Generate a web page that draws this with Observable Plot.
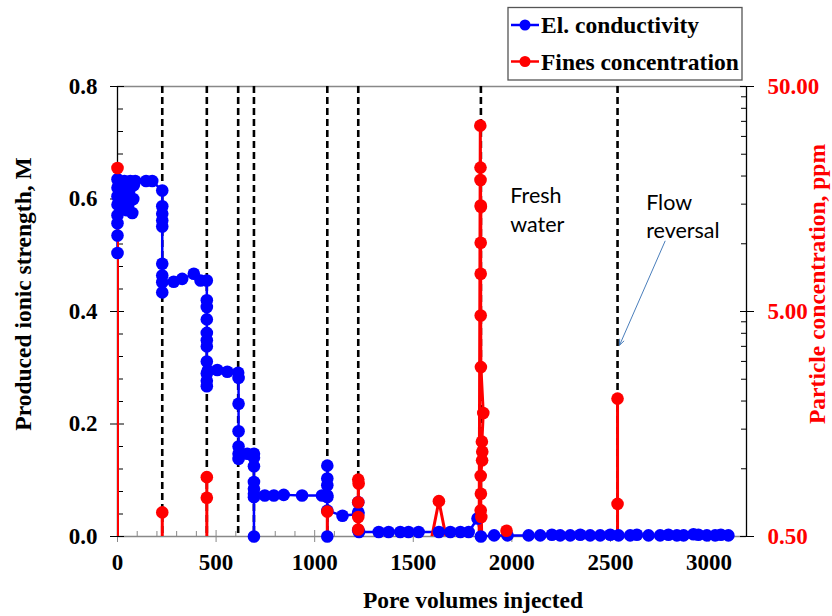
<!DOCTYPE html>
<html><head><meta charset="utf-8">
<script src="https://cdn.jsdelivr.net/npm/d3@7"></script>
<script src="https://cdn.jsdelivr.net/npm/@observablehq/plot@0.6"></script>
<style>
body{margin:0;background:#fff}
#chart{position:relative;width:832px;height:616px}
</style>
</head><body><div id="chart"></div>
<script>
// ---- Electrical conductivity (produced ionic strength, M) ----
const blueX = [0,0,0,0,0,0,0,0, 8,12,18,22,28,35,40,45,48,55,60,65,70,75,80,83, 90,145,176,
  227,227,227,227,227,227,227,227,227, 285,328,387,421,453,
  453,453,453,453,453,453,453,453,453,453, 458,506,557,612,
  614,614,614,614,614,614, 658,692,
  692,692,692,692,692,692, 692,747,793,843,936,1037,1064,
  1064,1064,1064,1064,1064,1064, 1141,1221,1221,1221,1221,1225,
  1325,1375,1434,1476,1527,1630,1688,1739,1781,1826,1843,1910,1978,
  2085,2144,2203,2245,2296,2347,2397,2448,2499,2541,2600,2634,2693,2752,2794,2837,2871,2921,2946,2989,3031,3060,3098];
const blueY = [0.504,0.535,0.557,0.571,0.59,0.605,0.62,0.635, 0.63,0.61,0.59,0.6,0.625,0.632,0.62,0.6,0.58,0.59,0.615,0.632,0.6,0.575,0.6,0.625, 0.632,0.632,0.632,
  0.615,0.587,0.574,0.562,0.551,0.485,0.464,0.434,0.452, 0.453,0.458,0.467,0.455,0.455,
  0.42,0.408,0.386,0.362,0.349,0.338,0.311,0.29,0.277,0.267, 0.295,0.296,0.293,0.291,
  0.282,0.236,0.187,0.16,0.147,0.138, 0.147,0.147,
  0.14,0.125,0.097,0.085,0.076,0, 0.07,0.073,0.073,0.074,0.073,0.073,0.073,
  0.091,0.103,0.126,0.07,0,0.046, 0.037,0.04,0.061,0.043,0.011,0.008,
  0.008,0.008,0.008,0.008,0.008,0.008,0.008,0.008,0.008,0.032,0,0.002,0.002,
  0.002,0.002,0.003,0.002,0.002,0.003,0.002,0.002,0.003,0.002,0.002,0.003,0.002,0.002,0.003,0.002,0.002,0.004,0.003,0.002,0.002,0.003,0.002];

// ---- Fines concentration (ppm); values under 0.5 fall below the axis ----
const redX = [0,0, 227,227,227, 453,453,453,453, 1064,1064,1064,
  1221,1221,1223,1221,1221,1221,1221, 1584,1630,1676,
  1832,1840,1841,1841,1842,1843,1842,1842,1842,1843,1855,1848,1850,1849,1842,1843,1842,1845,1866,
  1973,1973,1973, 2536,2536,2536,2536];
const redC = [21.7,0.1, 0.1,0.64,0.1, 0.1,0.918,0.743,0.1, 0.1,0.645,0.1,
  0.1,0.895,0.86,0.71,0.61,0.537,0.1, 0.45,0.718,0.45,
  0.1,33.5,21.8,19.2,14.8,14.6,10.1,7.36,4.8,2.83,1.77,1.32,1.19,1.09,0.93,0.775,0.653,0.61,0.1,
  0.1,0.53,0.1, 0.1,2.05,0.698,0.1];

// ---- event markers (dashed verticals) ----
const eventX = [227, 453, 612, 692, 1064, 1221, 1843, 2536];

// ---- ticks ----
const xTicks = [0,500,1000,1500,2000,2500,3000];
const xMinor = [100,200,300,400,600,700,800,900,1100,1200,1300,1400,1600,1700,1800,1900,2100,2200,2300,2400,2600,2700,2800,2900,3100];
const yTicks = [0,0.2,0.4,0.6,0.8];
const yMinor = [0.04,0.08,0.12,0.16,0.24,0.28,0.32,0.36,0.44,0.48,0.52,0.56,0.64,0.68,0.72,0.76];
const rTicks = [0.5,5,50];
const rMinor = [1,1.5,2,2.5,3,3.5,4,4.5,10,15,20,25,30,35,40,45];

const X_MAX = 3190;
const cScale = d3.scaleLog().domain([0.5,50]).range([0,0.8]);

const blue = blueX.map((x,i)=>({x, y: blueY[i]}));
const red = redX.map((x,i)=>({x, c: redC[i], yr: cScale(redC[i])}));

const serif = "'Liberation Serif','Times New Roman',serif";
const sans = "Lato,'Open Sans',sans-serif";

const plot = Plot.plot({
  width: 832, height: 616,
  marginLeft: 117, marginRight: 86, marginTop: 86, marginBottom: 80,
  x: {domain: [0, X_MAX], axis: null},
  y: {domain: [0, 0.8], axis: null},
  style: {fontFamily: serif, background: "white", color: "black"},
  marks: [
    // frame lines
    Plot.ruleY([0.8], {stroke: "#888", strokeWidth: 1.3}),
    Plot.ruleY([0], {stroke: "#888", strokeWidth: 1.3}),
    Plot.ruleX([0], {stroke: "black", strokeWidth: 1.3}),
    Plot.ruleX([X_MAX], {stroke: "black", strokeWidth: 1.3}),
    // ticks
    Plot.axisX(xTicks, {anchor: "bottom", tickSize: 12, dy: -6, fill: "none", stroke: "#888", label: null}),
    Plot.axisX(xMinor, {anchor: "bottom", tickSize: 5, dy: -5, fill: "none", stroke: "#888", label: null}),
    Plot.axisY(yTicks, {anchor: "left", tickSize: 14, dx: 7, fill: "none", stroke: "black", label: null}),
    Plot.axisY(yMinor, {anchor: "left", tickSize: 6, dx: 6, fill: "none", stroke: "black", label: null}),
    Plot.axisY(rTicks.map(cScale), {anchor: "right", tickSize: 14, dx: -7, fill: "none", stroke: "black", label: null}),
    Plot.axisY(rMinor.map(cScale), {anchor: "right", tickSize: 6, dx: -6, fill: "none", stroke: "black", label: null}),
    // tick labels
    Plot.axisX(xTicks, {anchor: "bottom", tickSize: 0, tickPadding: 17, tickFormat: d => String(d), fontSize: 23, fontWeight: "bold", fill: "black", label: null}),
    Plot.axisY(yTicks, {anchor: "left", tickSize: 0, tickPadding: 20, tickFormat: d => d.toFixed(1), fontSize: 23, fontWeight: "bold", fill: "black", label: null}),
    Plot.axisY(rTicks.map(cScale), {anchor: "right", tickSize: 0, tickPadding: 21, tickFormat: v => cScale.invert(v).toFixed(2), fontSize: 23, fontWeight: "bold", fill: "#ff0000", label: null}),
    // event lines
    Plot.ruleX(eventX, {stroke: "black", strokeWidth: 2.6, strokeDasharray: "7,4"}),
    // data
    Plot.line(blue, {x: "x", y: "y", stroke: "#0000ff", strokeWidth: 2.5}),
    Plot.line(red, {x: "x", y: "yr", stroke: "#ff0000", strokeWidth: 3, clip: true}),
    Plot.dot(blue, {x: "x", y: "y", r: 6.3, fill: "#0000ff"}),
    Plot.dot(red.filter(d => d.c >= 0.5), {x: "x", y: "yr", r: 6.3, fill: "#ff0000"}),
    // annotations
    Plot.text([{x: 1992, y: 0.583, t: "Fresh\nwater"}], {x: "x", y: "y", text: "t", textAnchor: "start", lineAnchor: "middle", lineHeight: 1.32, fontSize: 21.5, fontFamily: sans, fill: "black"}),
    Plot.text([{x: 2681, y: 0.572, t: "Flow\nreversal"}], {x: "x", y: "y", text: "t", textAnchor: "start", lineAnchor: "middle", lineHeight: 1.32, fontSize: 21.5, fontFamily: sans, fill: "black"}),
    Plot.arrow([{x1: 2777, y1: 0.525, x2: 2546, y2: 0.34}], {x1: "x1", y1: "y1", x2: "x2", y2: "y2", stroke: "#4a7ebb", strokeWidth: 1, headLength: 9, headAngle: 45})
  ]
});

document.getElementById("chart").appendChild(plot);

// ---- axis titles and legend ----
const svg = d3.select(plot);
const g = svg.append("g").attr("font-family", serif).attr("font-weight", "bold");
g.append("text").attr("x", 473).attr("y", 608).attr("text-anchor", "middle").attr("font-size", 23.5).attr("fill", "black").text("Pore volumes injected");
g.append("text").attr("transform", "translate(31,294) rotate(-90)").attr("text-anchor", "middle").attr("font-size", 23.5).attr("fill", "black").text("Produced ionic strength, M");
g.append("text").attr("transform", "translate(825,284) rotate(-90)").attr("text-anchor", "middle").attr("font-size", 23.5).attr("fill", "#ff0000").text("Particle concentration, ppm");

const leg = svg.append("g");
leg.append("rect").attr("x", 508).attr("y", 7.5).attr("width", 234).attr("height", 72.5).attr("fill", "white").attr("stroke", "#555").attr("stroke-width", 1.3);
const legendItems = [
  {label: "El. conductivity", color: "#0000ff", y: 25},
  {label: "Fines concentration", color: "#ff0000", y: 61.5}
];
legendItems.forEach(it => {
  leg.append("line").attr("x1", 511).attr("x2", 539).attr("y1", it.y).attr("y2", it.y).attr("stroke", it.color).attr("stroke-width", 2.5);
  leg.append("circle").attr("cx", 525).attr("cy", it.y).attr("r", 5.5).attr("fill", it.color);
  leg.append("text").attr("x", 541).attr("y", it.y + 8).attr("text-anchor", "start").attr("font-family", serif).attr("font-weight", "bold").attr("font-size", 23.5).attr("fill", "black").text(it.label);
});
</script>
</body></html>
